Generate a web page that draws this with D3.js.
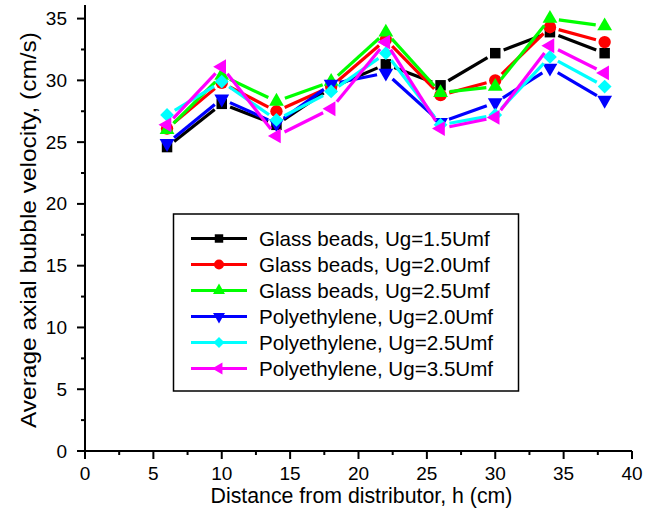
<!DOCTYPE html>
<html lang="en">
<head>
  <meta charset="UTF-8">
  <title>Average axial bubble velocity</title>
  <style>
    body { margin: 0; background: #fff; }
    #chart { display: block; }
    text { font-family: "Liberation Sans", Arial, sans-serif; fill: #000; }
  </style>
</head>
<body>
  <svg id="chart"></svg>

  <script src="https://d3js.org/d3.v7.min.js"></script>
  <script>
    const width = 655;
    const height = 513;
    const margin = { top: 5, right: 23, bottom: 62, left: 85 };

    // distance from distributor (cm)
    const distance = [6, 10, 14, 18, 22, 26, 30, 34, 38];

    // average axial bubble velocity (cm/s)
    const glass15 = [24.6, 28.1, 26.4, 29.4, 31.3, 29.6, 32.2, 33.9, 32.2];
    const glass20 = [26.1, 29.8, 27.5, 29.5, 33.3, 28.8, 30.0, 34.3, 33.1];
    const glass25 = [26.0, 30.4, 28.3, 29.9, 33.9, 29.0, 29.5, 35.0, 34.4];
    const poly20 = [24.9, 28.5, 26.5, 29.7, 30.6, 26.6, 28.2, 31.0, 28.4];
    const poly25 = [27.2, 29.9, 26.8, 29.1, 32.2, 26.4, 27.2, 31.9, 29.5];
    const poly35 = [26.4, 31.1, 25.5, 27.7, 33.1, 26.1, 27.0, 32.8, 30.6];

    const seriesNames = [
      "Glass beads, Ug=1.5Umf",
      "Glass beads, Ug=2.0Umf",
      "Glass beads, Ug=2.5Umf",
      "Polyethylene, Ug=2.0Umf",
      "Polyethylene, Ug=2.5Umf",
      "Polyethylene, Ug=3.5Umf"
    ];

    const xTicks = [0, 5, 10, 15, 20, 25, 30, 35, 40];
    const yTicks = [0, 5, 10, 15, 20, 25, 30, 35];

    const colors = ["#000000", "#ff0000", "#00ff00", "#0000ff", "#00ffff", "#ff00ff"];
    // symbol type, area, rotation
    const markers = [
      { type: d3.symbolSquare, size: 110, rot: 0 },
      { type: d3.symbolCircle, size: 120, rot: 0 },
      { type: d3.symbolTriangle, size: 95, rot: 0 },
      { type: d3.symbolTriangle, size: 95, rot: 180 },
      { type: d3.symbolSquare, size: 95, rot: 45 },
      { type: d3.symbolTriangle, size: 95, rot: -90 }
    ];

    const allValues = [glass15, glass20, glass25, poly20, poly25, poly35];
    const series = allValues.map((vals, i) => ({
      name: seriesNames[i],
      color: colors[i],
      marker: markers[i],
      points: distance.map((d, j) => ({ x: d, y: vals[j] }))
    }));

    const svg = d3.select("#chart")
      .attr("width", width)
      .attr("height", height);

    const x = d3.scaleLinear()
      .domain([0, 40])
      .range([margin.left, width - margin.right]);

    const y = d3.scaleLinear()
      .domain([0, 36.1])
      .range([height - margin.bottom, margin.top]);

    const y0 = y(0);

    // minor ticks
    const xMinor = d3.range(2.5, 40, 5);
    const yMinor = d3.range(2.5, 36, 5);

    const xAxis = svg.append("g")
      .attr("transform", `translate(0,${y0})`);
    xAxis.append("line")
      .attr("x1", x(0)).attr("x2", x(40))
      .attr("stroke", "#000").attr("stroke-width", 2);
    xAxis.selectAll(".maj").data(xTicks).join("line")
      .attr("x1", d => x(d)).attr("x2", d => x(d))
      .attr("y1", 0).attr("y2", 8)
      .attr("stroke", "#000").attr("stroke-width", 2);
    xAxis.selectAll(".min").data(xMinor).join("line")
      .attr("x1", d => x(d)).attr("x2", d => x(d))
      .attr("y1", 0).attr("y2", 4)
      .attr("stroke", "#000").attr("stroke-width", 2);
    xAxis.selectAll("text").data(xTicks).join("text")
      .attr("x", d => x(d))
      .attr("y", 29)
      .attr("text-anchor", "middle")
      .attr("font-size", 19)
      .text(d => d);

    const yAxis = svg.append("g")
      .attr("transform", `translate(${x(0)},0)`);
    yAxis.append("line")
      .attr("y1", y0).attr("y2", margin.top)
      .attr("stroke", "#000").attr("stroke-width", 2);
    yAxis.selectAll(".maj").data(yTicks).join("line")
      .attr("y1", d => y(d)).attr("y2", d => y(d))
      .attr("x1", 0).attr("x2", -8)
      .attr("stroke", "#000").attr("stroke-width", 2);
    yAxis.selectAll(".min").data(yMinor).join("line")
      .attr("y1", d => y(d)).attr("y2", d => y(d))
      .attr("x1", 0).attr("x2", -4)
      .attr("stroke", "#000").attr("stroke-width", 2);
    yAxis.selectAll("text").data(yTicks).join("text")
      .attr("x", -18)
      .attr("y", d => y(d) + 6.5)
      .attr("text-anchor", "end")
      .attr("font-size", 19)
      .text(d => d);

    // axis titles
    svg.append("text")
      .attr("x", (x(0) + x(40)) / 2 + 3)
      .attr("y", 503)
      .attr("text-anchor", "middle")
      .attr("font-size", 21.3)
      .text("Distance from distributor, h (cm)");

    svg.append("text")
      .attr("transform", `translate(36,230) rotate(-90)`)
      .attr("text-anchor", "middle")
      .attr("font-size", 22.5)
      .attr("textLength", 396)
      .attr("lengthAdjust", "spacingAndGlyphs")
      .text("Average axial bubble velocity, (cm/s)");

    // lines with a small gap around each marker
    const gap = 9;
    const plot = svg.append("g");

    series.forEach(s => {
      const g = plot.append("g");
      const segs = d3.pairs(s.points).map(([a, b]) => {
        const x1 = x(a.x), y1 = y(a.y), x2 = x(b.x), y2 = y(b.y);
        const len = Math.hypot(x2 - x1, y2 - y1);
        const ux = (x2 - x1) / len, uy = (y2 - y1) / len;
        return [x1 + ux * gap, y1 + uy * gap, x2 - ux * gap, y2 - uy * gap];
      });
      g.selectAll("line").data(segs).join("line")
        .attr("x1", d => d[0]).attr("y1", d => d[1])
        .attr("x2", d => d[2]).attr("y2", d => d[3])
        .attr("stroke", s.color)
        .attr("stroke-width", 3.2);

      const sym = d3.symbol().type(s.marker.type).size(s.marker.size);
      g.selectAll("path").data(s.points).join("path")
        .attr("d", sym)
        .attr("transform", d => `translate(${x(d.x)},${y(d.y)}) rotate(${s.marker.rot})`)
        .attr("fill", s.color);
    });

    // legend
    const legend = svg.append("g");
    legend.append("rect")
      .attr("x", 173.5).attr("y", 214)
      .attr("width", 345).attr("height", 177)
      .attr("fill", "#fff")
      .attr("stroke", "#000")
      .attr("stroke-width", 1.5);

    series.forEach((s, i) => {
      const ry = 238.5 + i * 26;
      legend.append("line")
        .attr("x1", 191).attr("x2", 247)
        .attr("y1", ry).attr("y2", ry)
        .attr("stroke", s.color)
        .attr("stroke-width", 3);
      legend.append("path")
        .attr("d", d3.symbol().type(s.marker.type).size(s.marker.size * 0.65)())
        .attr("transform", `translate(219,${ry}) rotate(${s.marker.rot})`)
        .attr("fill", s.color);
      legend.append("text")
        .attr("x", 259)
        .attr("y", ry + 7.5)
        .attr("font-size", 20.6)
        .text(s.name);
    });
  </script>
</body>
</html>
